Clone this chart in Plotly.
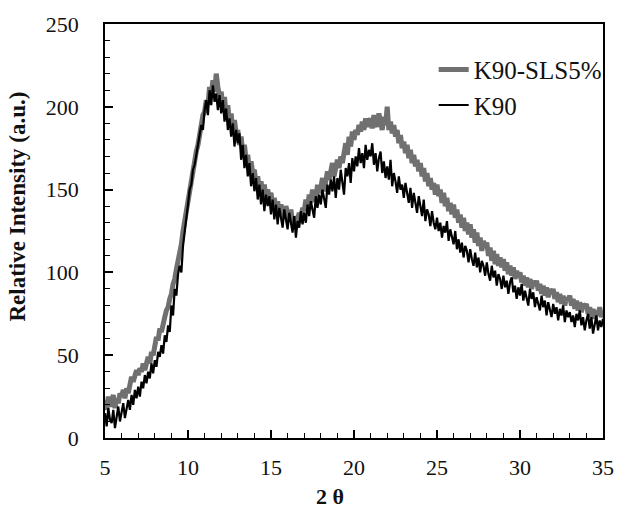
import numpy as np
import plotly.graph_objects as go

# 2-theta grid (0.1 degree steps, 5 -> 35)
two_theta = np.round(np.linspace(5, 35, 301), 1)

# K90 (black) intensities, one row per degree
k90 = [
    15, 7, 18, 11, 9, 17, 6, 14, 19, 10,
    16, 21, 12, 18, 23, 17, 26, 20, 29, 24,
    31, 25, 34, 30, 38, 33, 40, 36, 45, 39,
    47, 43, 52, 49, 56, 51, 62, 58, 68, 64,
    80, 74, 90, 86, 99, 104, 100, 116, 124, 130,
    141, 150, 153, 162, 165, 171, 177, 181, 189, 186,
    198, 204, 195, 210, 201, 213, 203, 208, 198, 207,
    196, 204, 191, 199, 186, 193, 182, 190, 176, 186,
    178, 184, 168, 177, 163, 171, 158, 166, 152, 160,
    149, 157, 144, 153, 141, 150, 137, 147, 140, 146,
    135, 144, 132, 141, 129, 139, 133, 127, 138, 131,
    126, 136, 130, 124, 134, 121, 131, 127, 137, 129,
    136, 130, 141, 134, 143, 137, 133, 146, 139, 147,
    141, 150, 144, 139, 153, 147, 156, 149, 158, 145,
    157, 150, 162, 155, 147, 163, 158, 166, 154, 169,
    161, 170, 164, 175, 166, 172, 163, 177, 168, 174,
    170, 178, 165, 172, 161, 169, 173, 160, 167, 157,
    164, 156, 168, 152, 160, 155, 148, 158, 150, 153,
    145, 154, 147, 142, 151, 139, 148, 143, 136, 146,
    139, 134, 144, 131, 138, 135, 128, 137, 130, 126,
    133, 125, 130, 121, 128, 124, 131, 119, 126, 121,
    117, 125, 114, 120, 112, 118, 109, 116, 113, 106,
    114, 108, 104, 112, 103, 109, 100, 107, 104, 98,
    106, 99, 95, 104, 97, 101, 92, 99, 96, 90,
    98, 91, 95, 87, 94, 97, 88, 92, 84, 91,
    86, 93, 83, 89, 85, 80, 90, 84, 88, 79,
    85, 81, 77, 86, 79, 83, 74, 82, 78, 73,
    81, 75, 79, 71, 78, 74, 80, 70, 77, 73,
    76, 70, 74, 67, 75, 71, 77, 68, 73, 65,
    71, 75, 66, 73, 63, 70, 74, 65, 71, 67,
    72,
]

# K90-SLS5% (grey) intensities, one row per degree
k90_sls = [
    23, 17, 25, 19, 22, 26, 18, 24, 21, 27,
    25, 29, 24, 30, 27, 33, 37, 34, 39, 41,
    38, 42, 40, 45, 41, 46, 49, 45, 52, 50,
    55, 61, 59, 66, 64, 71, 73, 77, 79, 84,
    87, 93, 96, 102, 106, 113, 117, 125, 131, 138,
    144, 152, 156, 164, 167, 173, 177, 185, 189, 195,
    197, 204, 201, 212, 207, 216, 209, 220, 212, 206,
    209, 200, 206, 194, 201, 190, 196, 185, 192, 184,
    186, 177, 182, 172, 177, 168, 171, 162, 167, 160,
    162, 153, 158, 150, 155, 147, 153, 144, 150, 145,
    148, 140, 145, 137, 143, 135, 141, 138, 133, 140,
    136, 131, 138, 129, 134, 127, 132, 136, 130, 139,
    137, 144, 139, 147, 142, 150, 145, 143, 153, 148,
    151, 157, 149, 155, 161, 156, 160, 166, 158, 164,
    168, 163, 170, 166, 174, 178, 171, 182, 176, 185,
    180, 186, 183, 189, 185, 191, 186, 193, 188, 190,
    193, 187, 195, 190, 188, 196, 191, 186, 194, 189,
    200, 186, 191, 184, 189, 182, 186, 178, 183, 175,
    179, 172, 177, 169, 174, 166, 171, 164, 168, 161,
    166, 158, 163, 155, 160, 152, 157, 150, 154, 147,
    153, 146, 150, 142, 148, 140, 145, 137, 142, 135,
    141, 133, 138, 130, 135, 127, 133, 125, 130, 123,
    129, 121, 126, 118, 124, 116, 121, 113, 119, 115,
    118, 110, 115, 107, 113, 105, 111, 104, 109, 103,
    108, 101, 106, 99, 104, 98, 103, 96, 101, 97,
    100, 94, 98, 92, 97, 91, 96, 90, 95, 92,
    95, 89, 93, 87, 92, 86, 91, 85, 90, 87,
    90, 84, 88, 82, 87, 81, 86, 80, 85, 83,
    86, 80, 84, 78, 83, 77, 82, 76, 81, 79,
    81, 75, 79, 73, 78, 72, 77, 74, 79, 73,
    77,
]

x_ticks = [5, 10, 15, 20, 25, 30, 35]
y_ticks = [0, 50, 100, 150, 200, 250]

FONT = "'Times New Roman', 'Liberation Serif', 'DejaVu Serif', serif"

fig = go.Figure()
fig.add_trace(go.Scatter(
    x=two_theta, y=k90_sls, mode="lines", name="K90-SLS5%",
    line=dict(color="rgb(112,112,112)", width=5), legendgroup="a",
))
fig.add_trace(go.Scatter(
    x=two_theta, y=k90, mode="lines", name="K90",
    line=dict(color="black", width=2.2), legendgroup="b",
))

axis_common = dict(
    showline=True, linecolor="black", linewidth=1.5, mirror=True,
    showgrid=False, zeroline=False,
    ticks="inside", ticklen=8, tickwidth=1.5, tickcolor="black",
    tickfont=dict(family=FONT, size=22, color="#111"),
)

fig.update_xaxes(
    range=[5, 35], tickvals=x_ticks, ticklabelstandoff=9,
    minor=dict(ticks="inside", ticklen=5, tickwidth=1.2, tickcolor="black", dtick=1),
    **axis_common,
)
fig.update_yaxes(
    range=[0, 250], tickvals=y_ticks, ticklabelstandoff=20,
    minor=dict(ticks="inside", ticklen=5, tickwidth=1.2, tickcolor="black", dtick=10),
    **axis_common,
)

# axis titles (positioned as in the reference, slightly off-centre)
fig.add_annotation(
    text="<b>Relative Intensity (a.u.)</b>", textangle=-90,
    xref="paper", yref="paper", x=-0.176, y=0.56,
    xanchor="center", yanchor="middle", showarrow=False,
    font=dict(family=FONT, size=23, color="#111"),
)
fig.add_annotation(
    text="<b>2 θ</b>", xref="paper", yref="paper", x=0.451, y=-0.141,
    xanchor="center", yanchor="middle", showarrow=False,
    font=dict(family=FONT, size=22, color="#111"),
)

fig.update_layout(
    width=626, height=516,
    margin=dict(l=105, r=14, t=22, b=78),
    plot_bgcolor="white", paper_bgcolor="white",
    showlegend=True,
    legend=dict(
        x=0.66, y=0.945, xanchor="left", yanchor="top",
        font=dict(family=FONT, size=25, color="#111"),
        bgcolor="rgba(0,0,0,0)", tracegroupgap=3, traceorder="normal",
    ),
)

fig.write_html("out.html")
